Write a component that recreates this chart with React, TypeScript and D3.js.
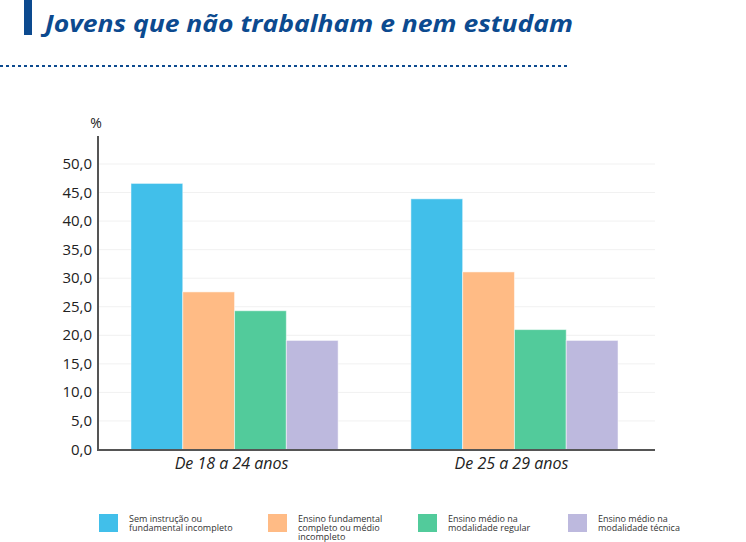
import { useEffect, useRef } from "react"
import * as d3 from "d3"

const categories = ["De 18 a 24 anos", "De 25 a 29 anos"]
const seriesNames = [
  ["Sem instrução ou", "fundamental incompleto"],
  ["Ensino fundamental", "completo ou médio", "incompleto"],
  ["Ensino médio na", "modalidade regular"],
  ["Ensino médio na", "modalidade técnica"],
]
const semInstrucao = [46.6, 43.9]
const fundamentalCompleto = [27.6, 31.1]
const medioRegular = [24.3, 21.0]
const medioTecnico = [19.1, 19.1]
const yTicks = [0, 5, 10, 15, 20, 25, 30, 35, 40, 45, 50]

const colors = ["#41bfea", "#ffbb85", "#52cb9b", "#bdb9de"]
const titleColor = "#0c4a8f"
const font = "'Open Sans', sans-serif"

export default function App() {
  const svgRef = useRef<SVGSVGElement>(null)

  useEffect(() => {
    if (!svgRef.current) return
    const svg = d3.select(svgRef.current)
    svg.selectAll("*").remove()

    const series = [semInstrucao, fundamentalCompleto, medioRegular, medioTecnico]

    // header
    svg.append("rect").attr("x", 24).attr("y", 0).attr("width", 8).attr("height", 35).attr("fill", titleColor)
    svg.append("text")
      .attr("x", 45).attr("y", 32)
      .attr("fill", titleColor)
      .style("font-family", font).style("font-weight", 700).style("font-style", "italic")
      .style("font-size", "24px")
      .attr("textLength", 528).attr("lengthAdjust", "spacingAndGlyphs")
      .text("Jovens que não trabalham e nem estudam")
    svg.append("line")
      .attr("x1", 0).attr("x2", 570).attr("y1", 66).attr("y2", 66)
      .attr("stroke", titleColor).attr("stroke-width", 2).attr("stroke-dasharray", "3,3")

    const left = 98
    const right = 655
    const x0 = d3.scaleBand<string>().domain(categories).range([left - 2, right - 2]).paddingInner(0.26).paddingOuter(0.125)
    const x1 = d3.scaleBand<number>().domain(d3.range(series.length)).range([0, x0.bandwidth()])
    const y = d3.scaleLinear().domain([0, 50]).range([449.5, 164])

    const g = svg.append("g")

    // grid lines
    g.selectAll("line.grid")
      .data(yTicks.slice(1))
      .enter()
      .append("line")
      .attr("x1", left).attr("x2", right)
      .attr("y1", (d) => y(d)).attr("y2", (d) => y(d))
      .attr("stroke", "#f1f1f1").attr("stroke-width", 1)

    // bars
    categories.forEach((c, ci) => {
      g.selectAll(`rect.bar-${ci}`)
        .data(series.map((s) => s[ci]))
        .enter()
        .append("rect")
        .attr("x", (_, i) => (x0(c) as number) + (x1(i) as number))
        .attr("y", (d) => y(d))
        .attr("width", x1.bandwidth())
        .attr("height", (d) => y(0) - y(d))
        .attr("fill", (_, i) => colors[i])
        .attr("stroke", "rgba(255,255,255,0.5)")
        .attr("stroke-width", 1)
    })

    // y tick labels
    g.selectAll("text.ytick")
      .data(yTicks)
      .enter()
      .append("text")
      .attr("x", 92).attr("y", (d) => y(d) + 5)
      .attr("text-anchor", "end")
      .attr("fill", "#222")
      .style("font-family", font).style("font-size", "15px")
      .text((d) => d.toFixed(1).replace(".", ","))

    svg.append("text")
      .attr("x", 96).attr("y", 128)
      .attr("text-anchor", "middle")
      .attr("fill", "#222")
      .style("font-family", font).style("font-size", "14px")
      .text("%")

    // axes
    svg.append("line").attr("x1", left).attr("x2", left).attr("y1", 136).attr("y2", 450.5)
      .attr("stroke", "#555").attr("stroke-width", 2)
    svg.append("line").attr("x1", left - 1).attr("x2", right).attr("y1", 450).attr("y2", 450)
      .attr("stroke", "#555").attr("stroke-width", 2)

    // category labels
    g.selectAll("text.cat")
      .data(categories)
      .enter()
      .append("text")
      .attr("x", (d) => (x0(d) as number) + x0.bandwidth() / 2 - 3)
      .attr("y", 469)
      .attr("text-anchor", "middle")
      .attr("fill", "#222")
      .style("font-family", font).style("font-style", "italic").style("font-size", "16px")
      .text((d) => d)

    // legend
    const legendX = [99, 268, 418, 568]
    const lg = svg.selectAll("g.legend")
      .data(seriesNames)
      .enter()
      .append("g")
      .attr("transform", (_, i) => `translate(${legendX[i]},514)`)
    lg.append("rect").attr("width", 19).attr("height", 18).attr("fill", (_, i) => colors[i])
    lg.append("text")
      .attr("x", 30).attr("y", 8)
      .attr("fill", "#333")
      .style("font-family", font).style("font-size", "9px")
      .selectAll("tspan")
      .data((d) => d)
      .enter()
      .append("tspan")
      .attr("x", 30)
      .attr("dy", (_, i) => (i === 0 ? 0 : 9))
      .text((d) => d)
  }, [])

  return (
    <div style={{ position: "absolute", left: 0, top: 0, width: 746, height: 542, background: "#fff" }}>
      <svg ref={svgRef} width={746} height={542} style={{ display: "block" }} />
    </div>
  )
}
